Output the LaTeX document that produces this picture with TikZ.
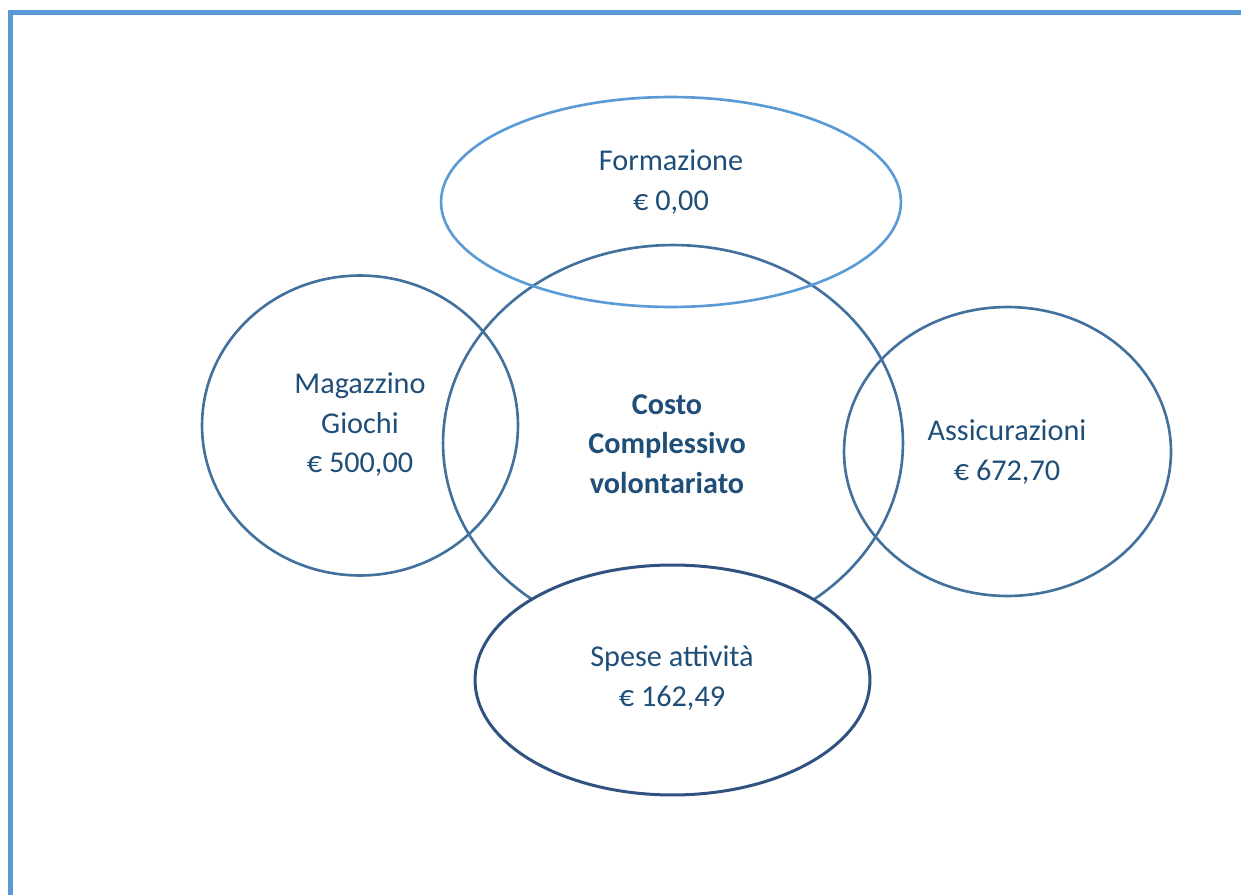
\documentclass[tikz,border=0pt]{standalone}
\usepackage{fontspec}
\setmainfont{Carlito}
\usetikzlibrary{shapes.geometric}
\definecolor{frameblue}{HTML}{5B9BD5}
\definecolor{ringblue}{HTML}{41719C}
\definecolor{darkring}{HTML}{2F5280}
\definecolor{txtblue}{HTML}{1F4E79}
\tikzset{
  ring/.style={ellipse, draw=ringblue, line width=1.5pt, inner sep=0pt},
  lightring/.style={ring, draw=frameblue},
  topring/.style={ring, draw=darkring, line width=1.7pt, fill=white},
  txt/.style={text=txtblue, align=center, font=\fontsize{17.2}{22.5}\selectfont, inner sep=0pt},
  frame/.style={draw=frameblue, line width=2.8pt},
}
\begin{document}
\begin{tikzpicture}[x=0.02cm, y=-0.02cm]
\useasboundingbox (0,0) rectangle (1241,895);
\draw[frame] (10.5,900) -- (10.5,12.5) -- (1245,12.5);
\node[ring, minimum width=9.2cm, minimum height=7.92cm] (C) at (673,443) {};
\node[ring, minimum width=6.32cm, minimum height=6.0cm] (M) at (360,425.5) {};
\node[ring, minimum width=6.54cm, minimum height=5.78cm] (A) at (1007.5,451.5) {};
\node[lightring, minimum width=9.2cm, minimum height=4.2cm] (F) at (671,202) {};
\node[topring, minimum width=7.9cm, minimum height=4.6cm] (S) at (672.5,680) {};
\node[txt] (tF) at (671,182) {Formazione\\€ 0,00};
\node[txt] (tM) at (360,425) {Magazzino\\Giochi\\€ 500,00};
\node[txt, font=\fontsize{17.2}{22.5}\selectfont\bfseries] (tC) at (667,444) {Costo\\Complessivo\\volontariato};
\node[txt] (tA) at (1007,452) {Assicurazioni\\€ 672,70};
\node[txt] (tS) at (672,678) {Spese attività\\€ 162,49};
\end{tikzpicture}
\end{document}
